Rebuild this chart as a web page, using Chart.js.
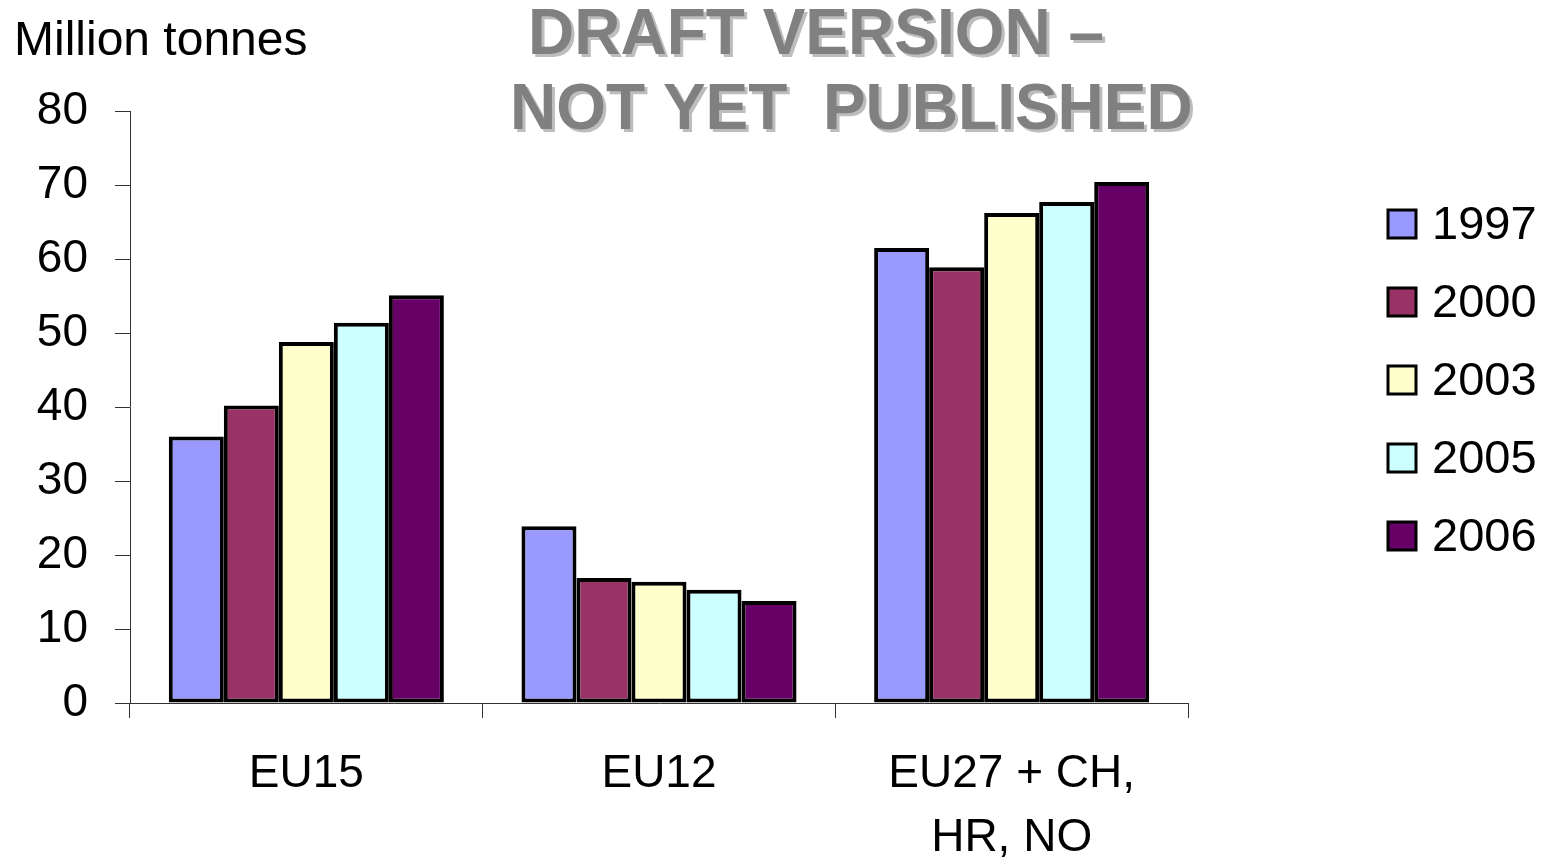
<!DOCTYPE html>
<html>
<head>
<meta charset="utf-8">
<script src="https://cdn.jsdelivr.net/npm/chart.js@4.4.1/dist/chart.umd.min.js"></script>
<style>
  html, body { margin: 0; padding: 0; background: #fff; }
</style>
</head>
<body>
<canvas id="tonnesChart" width="1554" height="857"></canvas>
<script>
// categories (multi-line labels as arrays)
var regions = [["EU15"], ["EU12"], ["EU27 + CH,", "HR, NO"]];
var years = ["1997", "2000", "2003", "2005", "2006"];

// million tonnes
var y1997 = [36.0, 23.9, 61.5];
var y2000 = [40.2, 16.9, 58.9];
var y2003 = [48.8, 16.4, 66.2];
var y2005 = [51.4, 15.3, 67.7];
var y2006 = [55.1, 13.8, 70.4];

var colours = ["#9999FF", "#993366", "#FFFFCC", "#CCFFFF", "#660066"];
var yMin = 0, yMax = 80, yStep = 10;

var FONT = "'Liberation Sans', Arial, sans-serif";
Chart.defaults.font.family = FONT;
Chart.defaults.color = "#000";

var series = [y1997, y2000, y2003, y2005, y2006];
var datasets = series.map(function (vals, i) {
  return {
    label: years[i],
    data: vals,
    backgroundColor: colours[i],
    borderColor: "#000",
    borderWidth: 4,
    borderSkipped: false,
    categoryPercentage: 0.78,
    barPercentage: 1.0
  };
});

// unit label, watermark title and legend drawn on top
var extras = {
  id: "extras",
  afterDraw: function (chart) {
    var ctx = chart.ctx;
    ctx.save();
    ctx.textBaseline = "alphabetic";
    ctx.textAlign = "left";
    ctx.fillStyle = "#000";
    ctx.font = "48px " + FONT;
    ctx.fillText("Million tonnes", 14, 55);

    ctx.font = "47px " + FONT;
    chart.data.datasets.forEach(function (ds, i) {
      var cy = 224 + i * 78;
      ctx.fillStyle = ds.backgroundColor;
      ctx.fillRect(1388, cy - 14, 28, 28);
      ctx.lineWidth = 3;
      ctx.strokeStyle = "#000";
      ctx.strokeRect(1388, cy - 14, 28, 28);
      ctx.fillStyle = "#000";
      ctx.fillText(ds.label, 1432, cy + 15);
    });

    ctx.font = "bold 64px " + FONT;
    ctx.fillStyle = "#808080";
    ctx.shadowColor = "#bdbdbd";
    ctx.shadowOffsetX = 3;
    ctx.shadowOffsetY = 3;
    ctx.shadowBlur = 0;
    ctx.fillText("DRAFT VERSION \u2013", 528, 54);
    ctx.fillText("NOT YET  PUBLISHED", 510, 129);
    ctx.restore();
  }
};

var ctx = document.getElementById("tonnesChart").getContext("2d");
var myChart = new Chart(ctx, {
  type: "bar",
  data: {
    labels: regions,
    datasets: datasets
  },
  plugins: [extras],
  options: {
    responsive: false,
    animation: false,
    devicePixelRatio: 1,
    layout: {
      padding: { top: 111, right: 366, bottom: 0, left: 0 }
    },
    plugins: {
      legend: { display: false },
      title: { display: false },
      tooltip: { enabled: false }
    },
    scales: {
      x: {
        offset: true,
        grid: {
          offset: true,
          drawOnChartArea: false,
          drawTicks: true,
          tickLength: 15,
          color: "#333",
          lineWidth: 1
        },
        border: { display: true, color: "#333", width: 1 },
        ticks: {
          font: { size: 46, lineHeight: 1.4 },
          padding: 24,
          maxRotation: 0,
          autoSkip: false
        },
        afterFit: function (scale) { scale.height = 154; }
      },
      y: {
        min: yMin,
        max: yMax,
        ticks: {
          stepSize: yStep,
          font: { size: 46 },
          padding: 27
        },
        grid: {
          drawOnChartArea: false,
          drawTicks: true,
          tickLength: 15,
          color: "#333",
          lineWidth: 1
        },
        border: { display: true, color: "#333", width: 1 },
        afterFit: function (scale) { scale.width = 130; }
      }
    }
  }
});
</script>
</body>
</html>
